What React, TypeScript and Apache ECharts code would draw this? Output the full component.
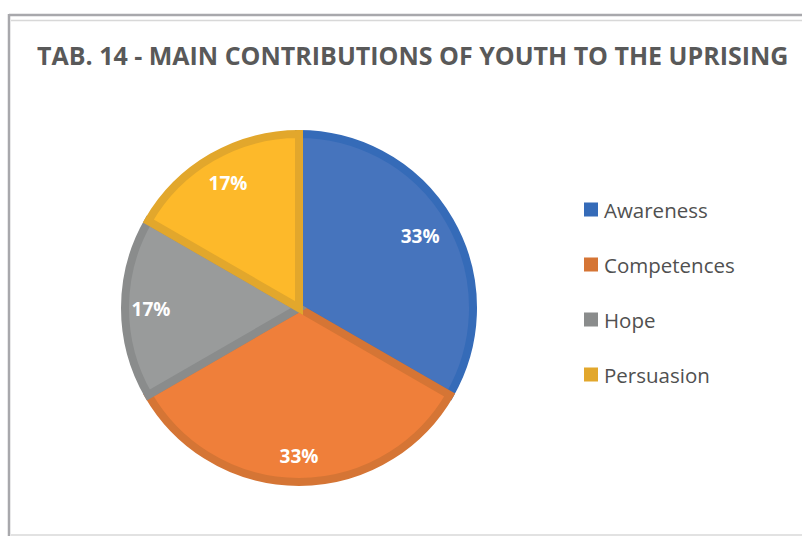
import React, { useEffect, useRef } from "react";
import * as echarts from "echarts";

const titleText = "TAB. 14 - MAIN CONTRIBUTIONS OF YOUTH TO THE UPRISING";
const categories = ["Awareness", "Competences", "Hope", "Persuasion"];
const values = [2, 2, 1, 1];
const fillColors = ["#4674bd", "#ef7f3a", "#999b9b", "#fdb92a"];
const edgeColors = ["#356bb8", "#d57535", "#8a8c8c", "#e2a72c"];
const labelOffsets = [[-7, 2], [0, 0], [0, 1], [3, 3]];

export default function App() {
  const ref = useRef<HTMLDivElement>(null);
  useEffect(() => {
    if (!ref.current) return;
    const chart = echarts.init(ref.current, null, { renderer: "svg" });
    const font = "'Open Sans', 'Noto Sans', sans-serif";
    chart.setOption({
      animation: false,
      backgroundColor: "#ffffff",
      title: {
        text: titleText,
        left: 37,
        top: 42,
        padding: 0,
        textStyle: {
          fontFamily: font,
          fontWeight: 700,
          fontSize: 25,
          color: "#595959",
        },
      },
      legend: {
        orient: "vertical",
        left: 584,
        top: 199,
        padding: 0,
        itemWidth: 12,
        itemHeight: 12,
        itemGap: 34,
        icon: "rect",
        selectedMode: false,
        textStyle: {
          fontFamily: font,
          fontSize: 20.5,
          color: "#505050",
          lineHeight: 20,
          padding: [0, 0, 0, 2],
        },
        data: categories.map((c, i) => ({
          name: c,
          itemStyle: { color: edgeColors[i] },
        })),
      },
      graphic: [
        {
          type: "line",
          shape: { x1: 9, y1: 15, x2: 802, y2: 15 },
          style: { stroke: "#a8a8ac", lineWidth: 2.5 },
          silent: true,
        },
        {
          type: "line",
          shape: { x1: 9, y1: 14, x2: 9, y2: 536 },
          style: { stroke: "#a8a8ac", lineWidth: 2.5 },
          silent: true,
        },
        {
          type: "line",
          shape: { x1: 11, y1: 20.5, x2: 802, y2: 20.5 },
          style: { stroke: "#d8d8d8", lineWidth: 1.5 },
          silent: true,
        },
        {
          type: "line",
          shape: { x1: 11, y1: 535, x2: 802, y2: 535 },
          style: { stroke: "#d8d8d8", lineWidth: 1.5 },
          silent: true,
        },
      ],
      series: [
        {
          type: "pie",
          center: [299, 308],
          radius: [0, 174],
          startAngle: 90,
          clockwise: true,
          silent: true,
          label: { show: false },
          labelLine: { show: false },
          data: categories.map((c, i) => ({
            name: c,
            value: values[i],
            itemStyle: {
              color: fillColors[i],
              borderColor: edgeColors[i],
              borderWidth: 8,
              borderJoin: "miter",
            },
          })),
        },
        {
          type: "pie",
          center: [299, 308],
          radius: [0, 290],
          startAngle: 90,
          clockwise: true,
          silent: true,
          percentPrecision: 0,
          legendHoverLink: false,
          itemStyle: { color: "rgba(0,0,0,0)", borderWidth: 0 },
          label: {
            show: true,
            position: "inside",
            formatter: "{d}%",
            fontFamily: font,
            fontWeight: 700,
            fontSize: 19,
            color: "#ffffff",
          },
          labelLine: { show: false },
          data: categories.map((c, i) => ({
            name: c,
            value: values[i],
            itemStyle: { color: "rgba(0,0,0,0)" },
            label: { offset: labelOffsets[i] },
          })),
        },
      ],
    });
    return () => chart.dispose();
  }, []);
  return (
    <div
      ref={ref}
      style={{ position: "fixed", left: 0, top: 0, width: 802, height: 536 }}
    />
  );
}
